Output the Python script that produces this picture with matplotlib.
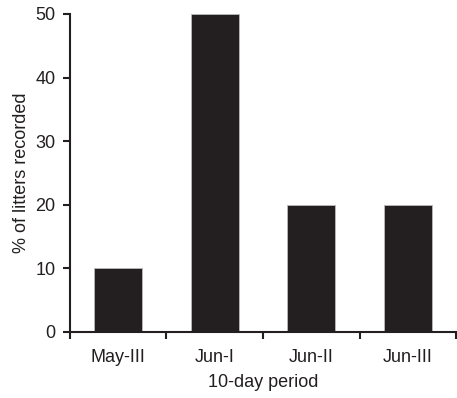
import matplotlib.pyplot as plt
import numpy as np

periods = ["May-III", "Jun-I", "Jun-II", "Jun-III"]
pct_litters = [10, 50, 20, 20]

ink = "#231f20"
plt.rcParams["font.family"] = ["Liberation Sans", "DejaVu Sans"]

fig = plt.figure(figsize=(4.57, 3.98), dpi=100)
ax = fig.add_axes([0.153, 0.166, 0.845, 0.799])

x = np.arange(len(periods))
ax.bar(x, pct_litters, width=0.5, color=ink, edgecolor="#bbbbbb", linewidth=0.6)

ax.set_xlim(-0.5, len(periods) - 0.5)
ax.set_ylim(0, 50)
ax.set_yticks(range(0, 51, 10))

# ticks sit between the periods, labels centred under each bar
ax.set_xticks(np.arange(-0.5, len(periods), 1.0))
ax.set_xticklabels([])
ax.set_xticks(x, minor=True)
ax.set_xticklabels(periods, minor=True)
ax.tick_params(axis="both", which="major", length=5, width=1.5, color=ink,
               labelsize=13, labelcolor=ink, pad=5.5)
ax.tick_params(axis="x", which="minor", length=0, pad=12,
               labelsize=13, labelcolor=ink)

for side in ("top", "right"):
    ax.spines[side].set_visible(False)
for side in ("left", "bottom"):
    ax.spines[side].set_linewidth(1.5)
    ax.spines[side].set_color(ink)

ax.set_xlabel("10-day period", fontsize=13, color=ink, labelpad=6)
ax.set_ylabel("% of litters recorded", fontsize=13, color=ink, labelpad=4)

fig.savefig("out.png", dpi=100)
